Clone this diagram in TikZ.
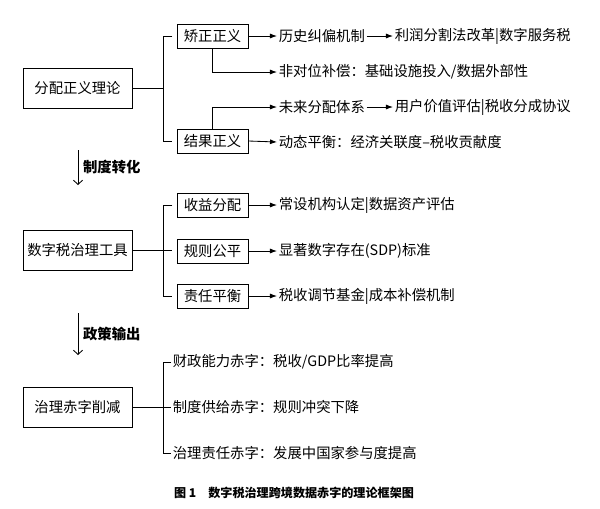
\documentclass[tikz,border=0pt]{standalone}
\usepackage{fontspec}
\setmainfont{Noto Sans CJK SC}
\usepackage{tikz}
\usetikzlibrary{arrows.meta}
\usetikzlibrary{calc,positioning}

\begin{document}
\begin{tikzpicture}[x=0.025cm,y=-0.025cm,>={Latex[length=5pt,width=3.6pt]},
    line width=0.6pt,
    font=\fontsize{10.2pt}{12pt}\selectfont,
    bigbox/.style={draw,minimum width=2.725cm,minimum height=1cm,inner sep=1pt},
    smallbox/.style={draw,minimum width=1.775cm,minimum height=0.6cm,inner sep=1pt},
    txt/.style={anchor=west,inner sep=1pt},
    stage/.style={-{Straight Barb[length=3pt,width=6.5pt]}}]

    \useasboundingbox (0,0) rectangle (600,508);

    % first block
    \node[bigbox] (fp) at (77.5,88) {分配正义理论};
    \node[smallbox] (jz) at (212.5,36) {矫正正义};
    \node[smallbox] (jg) at (212.5,141) {结果正义};
    \node[txt] (lsjp) at (277,36) {历史纠偏机制};
    \node[txt] (lrfg) at (393,36) {利润分割法改革|数字服务税};
    \node[txt] (fdw) at (277,72) {非对位补偿：基础设施投入/数据外部性};
    \node[txt] (wlfp) at (277,107) {未来分配体系};
    \node[txt] (yhjz) at (393,107) {用户价值评估|税收分成协议};
    \node[txt] (dtph) at (277,142) {动态平衡：经济关联度–税收贡献度};

    \draw (fp.east) -- ++(31,0) coordinate (k1);
    \draw ($(k1|-jz)+(9,0)$) -- (k1|-jz) -- (k1|-jg) -- ++(9,0);
    \draw[->] (jz.east) -- (lsjp.west);
    \draw[->] (lsjp.east) -- (lrfg.west);
    \draw[->] (jz.south) |- (fdw.west);
    \draw[->] (jg.north) |- (wlfp.west);
    \draw[->] (wlfp.east) -- (yhjz.west);
    \draw[->] (jg.east) -- (dtph.west);

    \coordinate (z1) at (78,150);
    \coordinate (z2) at (78,185);
    \draw[stage] (z1) -- node[right,font=\fontsize{10.2pt}{12pt}\selectfont\bfseries]{制度转化} (z2);

    % second block
    \node[bigbox] (gj) at (77.5,250) {数字税治理工具};
    \node[smallbox] (syfp) at (212.5,205) {收益分配};
    \node[smallbox] (gzgp) at (212.5,251) {规则公平};
    \node[smallbox] (zrph) at (212.5,296) {责任平衡};
    \node[txt] (csjg) at (277,205) {常设机构认定|数据资产评估};
    \node[txt] (xzsz) at (277,251) {显著数字存在(SDP)标准};
    \node[txt] (sstj) at (277,296) {税收调节基金|成本补偿机制};

    \draw (gj.east) -- ++(40,0) coordinate (k2);
    \draw (k2|-syfp) -- ++(-9,0) coordinate (k2t) -- (k2t|-zrph) -- (k2|-zrph);
    \draw[->] (syfp.east) -- (csjg.west);
    \draw[->] (gzgp.east) -- (xzsz.west);
    \draw[->] (zrph.east) -- (sstj.west);

    \coordinate (c1) at (78,313);
    \coordinate (c2) at (78,355);
    \draw[stage] (c1) -- node[right,font=\fontsize{10.2pt}{12pt}\selectfont\bfseries]{政策输出} (c2);

    % third block
    \node[bigbox] (zl) at (77.5,407) {治理赤字削减};
    \node[txt] (cznl) at (171,362) {财政能力赤字：税收/GDP比率提高};
    \node[txt] (zdgj) at (171,407) {制度供给赤字：规则冲突下降};
    \node[txt] (zlzr) at (171,453) {治理责任赤字：发展中国家参与度提高};

    \draw (zl.east) -- (zdgj.west);
    \draw (cznl.west) -- ++(-8,0) coordinate (k3) -- (k3|-zlzr) -- (zlzr.west);

    \node[font=\fontsize{8.6pt}{10pt}\selectfont\bfseries] (cap) at (294,493)
        {图 1\quad 数字税治理跨境数据赤字的理论框架图};

\end{tikzpicture}
\end{document}
